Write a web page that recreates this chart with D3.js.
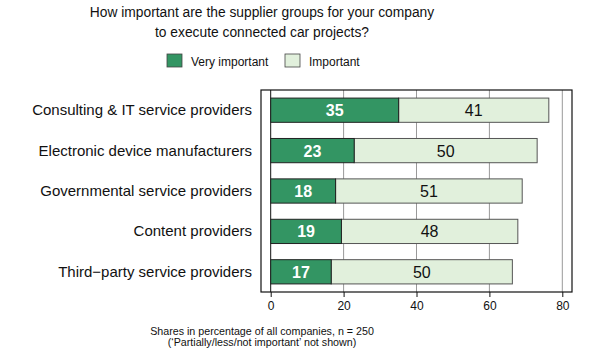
<!DOCTYPE html>
<html>
<head>
<meta charset="utf-8">
<script src="https://cdn.jsdelivr.net/npm/d3@7"></script>
<style>
  body { margin: 0; background: #fff; }
  text { font-family: "Liberation Sans", Arial, sans-serif; fill: #111; }
</style>
</head>
<body>
<script>
// data
var categories = [
  "Consulting & IT service providers",
  "Electronic device manufacturers",
  "Governmental service providers",
  "Content providers",
  "Third\u2212party service providers"
];
var veryImportant = [35.1, 22.9, 17.8, 19.4, 16.6];
var important = [41.2, 50.2, 51.2, 48.4, 49.7];
var xTicks = [0, 20, 40, 60, 80];
var seriesNames = ["Very important", "Important"];

var svgWidth = 600,
    svgHeight = 353;

var plotLeft = 261, plotRight = 572, plotTop = 90, plotBottom = 292;

var svg = d3.select("body").append("svg")
    .attr("width", svgWidth)
    .attr("height", svgHeight);

var xScale = d3.scaleLinear()
    .domain([0, 80])
    .range([270.7, 562.3]);

var yScale = d3.scaleBand()
    .domain(categories)
    .range([plotTop, plotBottom])
    .paddingInner(0.4)
    .paddingOuter(0.2);

// title
var title = ["How important are the supplier groups for your company", "to execute connected car projects?"];
svg.selectAll(".title")
    .data(title)
    .enter()
    .append("text")
    .attr("class", "title")
    .attr("x", 262)
    .attr("y", (d, i) => 17 + i * 20)
    .attr("text-anchor", "middle")
    .style("font-size", "13.8px")
    .text(d => d);

// legend
var colors = ["#339563", "#e1f0dc"];
var legend = svg.append("g");
var legendX = [167, 285];
seriesNames.forEach(function(name, i) {
  legend.append("rect")
    .attr("x", legendX[i])
    .attr("y", 54)
    .attr("width", 15)
    .attr("height", 13)
    .attr("fill", colors[i])
    .attr("stroke", "#444")
    .attr("stroke-width", 0.8);
  legend.append("text")
    .attr("x", legendX[i] + 24)
    .attr("y", 66)
    .style("font-size", "12px")
    .text(name);
});

// gridlines
svg.append("g")
  .selectAll("line")
  .data(xTicks.slice(1))
  .enter()
  .append("line")
  .attr("x1", d => xScale(d))
  .attr("x2", d => xScale(d))
  .attr("y1", plotTop)
  .attr("y2", plotBottom)
  .attr("stroke", "#999")
  .attr("stroke-width", 1);

// zero line
svg.append("line")
  .attr("x1", xScale(0)).attr("x2", xScale(0))
  .attr("y1", plotTop).attr("y2", plotBottom)
  .attr("stroke", "#111")
  .attr("stroke-width", 1);

// bars
var rows = categories.map((c, i) => ({ cat: c, v: veryImportant[i], imp: important[i] }));

var barGroups = svg.selectAll(".row")
  .data(rows)
  .enter()
  .append("g")
  .attr("class", "row");

barGroups.append("rect")
  .attr("x", d => xScale(d.v))
  .attr("y", d => yScale(d.cat))
  .attr("width", d => xScale(d.v + d.imp) - xScale(d.v))
  .attr("height", yScale.bandwidth())
  .attr("fill", colors[1])
  .attr("stroke", "#555")
  .attr("stroke-width", 1);

barGroups.append("rect")
  .attr("x", xScale(0))
  .attr("y", d => yScale(d.cat))
  .attr("width", d => xScale(d.v) - xScale(0))
  .attr("height", yScale.bandwidth())
  .attr("fill", colors[0])
  .attr("stroke", "#222")
  .attr("stroke-width", 1);

var fmt = d3.format(".0f");

barGroups.append("text")
  .attr("x", d => (xScale(0) + xScale(d.v)) / 2)
  .attr("y", d => yScale(d.cat) + yScale.bandwidth() / 2 + 6)
  .attr("text-anchor", "middle")
  .style("font-size", "16px")
  .style("font-weight", "bold")
  .style("fill", "#fff")
  .text(d => fmt(d.v));

barGroups.append("text")
  .attr("x", d => (xScale(d.v) + xScale(d.v + d.imp)) / 2)
  .attr("y", d => yScale(d.cat) + yScale.bandwidth() / 2 + 6)
  .attr("text-anchor", "middle")
  .style("font-size", "16px")
  .text(d => fmt(d.imp));

// category labels
svg.selectAll(".cat")
  .data(categories)
  .enter()
  .append("text")
  .attr("class", "cat")
  .attr("x", 252)
  .attr("y", d => yScale(d) + yScale.bandwidth() / 2 + 5)
  .attr("text-anchor", "end")
  .style("font-size", "15px")
  .text(d => d);

// plot box
svg.append("rect")
  .attr("x", plotLeft)
  .attr("y", plotTop)
  .attr("width", plotRight - plotLeft)
  .attr("height", plotBottom - plotTop)
  .attr("fill", "none")
  .attr("stroke", "#111")
  .attr("stroke-width", 1.2);

// x axis
var xAxis = d3.axisBottom(xScale)
  .tickValues(xTicks)
  .tickSize(5)
  .tickPadding(4);

var axisG = svg.append("g")
  .attr("transform", "translate(0," + plotBottom + ")")
  .call(xAxis);
axisG.select(".domain").remove();
axisG.selectAll("text")
  .style("font-size", "12px")
  .style("font-family", "Liberation Sans, Arial, sans-serif")
  .attr("fill", "#111");
axisG.selectAll("line").attr("stroke", "#111");

// footnote
var notes = ["Shares in percentage of all companies, n = 250", "(\u2018Partially/less/not important\u2019 not shown)"];
svg.selectAll(".note")
  .data(notes)
  .enter()
  .append("text")
  .attr("class", "note")
  .attr("x", 262)
  .attr("y", (d, i) => 335 + i * 11)
  .attr("text-anchor", "middle")
  .style("font-size", "10.7px")
  .text(d => d);
</script>
</body>
</html>
